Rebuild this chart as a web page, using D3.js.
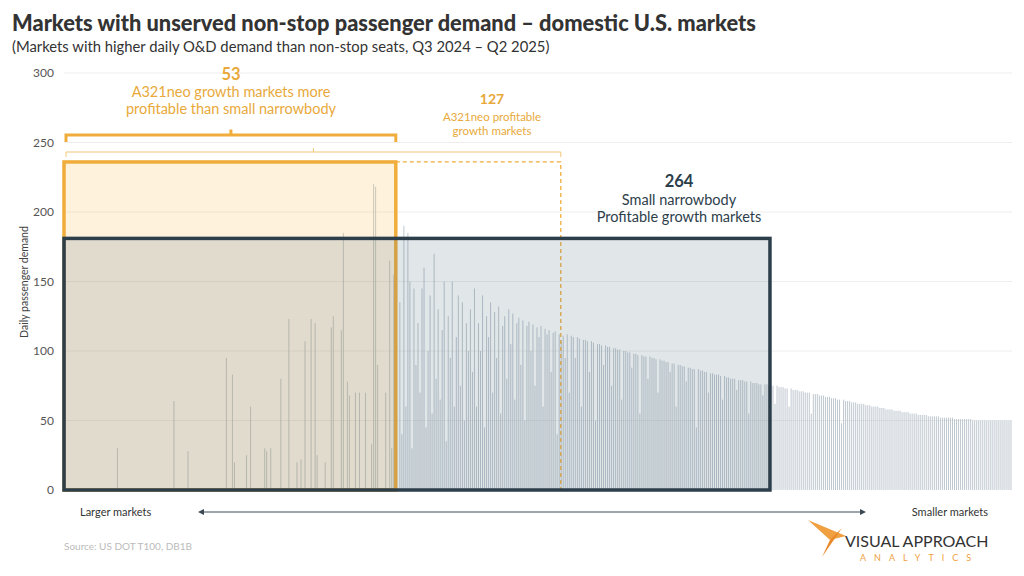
<!DOCTYPE html>
<html><head><meta charset="utf-8">
<script src="https://cdn.jsdelivr.net/npm/d3@7"></script>
<style>body{margin:0;background:#fff}text{font-family:Lato,sans-serif}</style>
</head><body>
<svg id="c" width="1024" height="576"></svg>
<script>
// sparse bars among the largest markets: [slot, daily demand]
const leftSlots  = [26,54,61,80,83,84,90,92,99,100,102,107,111,115,117,119,122,124,125,129,132,133,137,138,140,141,144,146,149,152,153,154,155,159,161,162,163,164];
const leftValues = [30,64,28,95,83,20,25,60,30,28,30,80,123,20,22,107,123,120,25,20,117,125,115,185,78,68,70,70,70,33,220,218,90,70,165,30,155,135];
const denseStart = 166;
const denseValues = [
135,40,190,60,185,150,30,145,90,120,70,145,160,45,100,140,55,170,80,130,65,115,150,35,125,95,150,60,110,140,75,135,50,120,100,
130,85,145,60,120,100,140,45,125,110,135,70,128,95,132,55,118,125,80,130,105,127,65,120,124,90,122,50,118,121,100,119,75,117,110,118,60,116,112,115,85,113,114,40,112,108,111,95,
112,70,111,110,95,110,109,60,108,108,107,85,107,106,50,105,105,104,90,104,103,103,75,102,102,101,101,65,100,100,99,99,88,98,98,97,55,97,96,96,80,96,95,95,94,70,94,93,93,92,92,85,
91,91,60,90,90,89,89,78,88,88,87,87,45,87,86,86,85,85,70,84,84,83,83,83,82,65,82,81,81,80,80,80,72,79,79,79,78,78,55,78,77,77,77,76,76,68,76,76,75,75,75,62,75,
74,74,74,73,73,60,73,72,72,72,71,71,71,70,70,70,55,69,69,69,68,68,68,67,67,67,66,66,66,65,65,48,65,64,64,64,63,63,63,62,62,62,62,61,61,61,60,60,60,60,59,59,59,58,58,58,58,57,57,57,57,56,56,56,56,55,55,55,55,54,54,54,54,54,53,53,53,53,53,53,52,52,52,52,52,52,52,51,51,51,51,51,51,51,51,51,50,50,50,50,50,50,50,50,50,50,50,50,50,50,50,50,50,50,50,50];
const yTicks = [0,50,100,150,200,250,300];
const boxEndSlots = [164.5,246.3,350];    // 53, 127, 264 market groups
const boxHeights = [236,236,181];
const groupCounts = ["53","127","264"];

const N = denseStart + denseValues.length;
const bars = leftSlots.map((s,i)=>({s,v:leftValues[i]}))
  .concat(denseValues.map((v,i)=>({s:denseStart+i,v})));

const svg = d3.select("#c");
const x = d3.scaleLinear().domain([0,N]).range([64,1012]);
const y = d3.scaleLinear().domain([0,300]).range([490,73]);

svg.append("text").attr("x",12).attr("y",31).attr("font-size",21.8).attr("font-weight",900).attr("fill","#333")
  .text("Markets with unserved non-stop passenger demand – domestic U.S. markets");
svg.append("text").attr("x",12).attr("y",52).attr("font-size",14.8).attr("fill","#333")
  .text("(Markets with higher daily O&D demand than non-stop seats, Q3 2024 – Q2 2025)");

svg.append("g").selectAll("line").data(yTicks.slice(1)).join("line")
  .attr("x1",64).attr("x2",1012).attr("y1",d=>y(d)).attr("y2",d=>y(d)).attr("stroke","#eee");
svg.append("g").selectAll("text").data(yTicks).join("text")
  .attr("x",54).attr("y",d=>y(d)+4).attr("text-anchor","end").attr("font-size",12).attr("fill","#555").text(d=>d);
svg.append("text").attr("transform","translate(28,282) rotate(-90)").attr("text-anchor","middle")
  .attr("font-size",10.5).attr("fill","#444").text("Daily passenger demand");

svg.append("g").selectAll("line").data(bars).join("line")
  .attr("x1",d=>x(d.s+0.5)).attr("x2",d=>x(d.s+0.5)).attr("y1",y(0)).attr("y2",d=>y(d.v))
  .attr("stroke","#aab6c0").attr("stroke-width",1).attr("opacity",0.75);

// boxes
const orange="#f0ad3c", dark="#2d3e4b";
svg.append("path").attr("d",`M${x(boxEndSlots[0])},${y(boxHeights[1])}H${x(boxEndSlots[1])}V${y(0)}`)
  .attr("fill","none").attr("stroke",orange).attr("stroke-width",1.3).attr("stroke-dasharray","4,3");
svg.append("rect").attr("x",x(0)).attr("y",y(boxHeights[0])).attr("width",x(boxEndSlots[0])-x(0))
  .attr("height",y(0)-y(boxHeights[0])).attr("fill","rgba(252,196,100,0.22)").attr("stroke",orange).attr("stroke-width",3.5);
svg.append("rect").attr("x",x(0)).attr("y",y(boxHeights[2])).attr("width",x(boxEndSlots[2])-x(0))
  .attr("height",y(0)-y(boxHeights[2])).attr("fill","rgba(80,105,125,0.17)").attr("stroke",dark).attr("stroke-width",3.5);

// braces
function brace(x0,x1,yy,h,w,col){
  const m=(x0+x1)/2;
  svg.append("path").attr("d",`M${x0},${yy+h}V${yy}H${x1}V${yy+h}M${m},${yy}V${yy-h*0.8}`)
    .attr("fill","none").attr("stroke",col).attr("stroke-width",w);
}
brace(x(0)+2,x(boxEndSlots[0]),135,7,3,orange);
brace(x(0)+2,x(boxEndSlots[1]),152,5,1,"#f2c67a");

svg.append("text").attr("x",231).attr("y",80).attr("text-anchor","middle").attr("font-size",16.5).attr("font-weight",700).attr("fill","#e8a93a").text(groupCounts[0]);
svg.append("text").attr("x",231).attr("y",97).attr("text-anchor","middle").attr("font-size",14.5).attr("fill","#e8a93a").text("A321neo growth markets more");
svg.append("text").attr("x",231).attr("y",114).attr("text-anchor","middle").attr("font-size",14.5).attr("fill","#e8a93a").text("profitable than small narrowbody");
svg.append("text").attr("x",492).attr("y",104).attr("text-anchor","middle").attr("font-size",14).attr("font-weight",700).attr("fill","#e8a93a").text(groupCounts[1]);
svg.append("text").attr("x",492).attr("y",121).attr("text-anchor","middle").attr("font-size",11.5).attr("fill","#e8a93a").text("A321neo profitable");
svg.append("text").attr("x",492).attr("y",135).attr("text-anchor","middle").attr("font-size",11.5).attr("fill","#e8a93a").text("growth markets");
svg.append("text").attr("x",679).attr("y",187).attr("text-anchor","middle").attr("font-size",16.5).attr("font-weight",700).attr("fill","#2d3e4b").text(groupCounts[2]);
svg.append("text").attr("x",679).attr("y",205).attr("text-anchor","middle").attr("font-size",14.5).attr("fill","#2d3e4b").text("Small narrowbody");
svg.append("text").attr("x",679).attr("y",222).attr("text-anchor","middle").attr("font-size",14.5).attr("fill","#2d3e4b").text("Profitable growth markets");

// bottom
svg.append("text").attr("x",80).attr("y",516).attr("font-size",11).attr("fill","#333").text("Larger markets");
svg.append("text").attr("x",988).attr("y",516).attr("text-anchor","end").attr("font-size",11).attr("fill","#333").text("Smaller markets");
svg.append("line").attr("x1",202).attr("x2",862).attr("y1",512).attr("y2",512).attr("stroke","#3c4a56").attr("stroke-width",1);
svg.append("path").attr("d","M198,512l6,-3v6z").attr("fill","#3c4a56");
svg.append("path").attr("d","M866,512l-6,-3v6z").attr("fill","#3c4a56");
svg.append("text").attr("x",64).attr("y",550).attr("font-size",10).attr("fill","#bbb").text("Source:  US DOT T100, DB1B");
// logo
svg.append("path").attr("d","M808,520L846,536L830,540Z").attr("fill","#f0a040");
svg.append("path").attr("d","M830,540L842,528L822,557Z").attr("fill","#e8892a");
svg.append("text").attr("x",845).attr("y",547).attr("font-size",16).attr("fill","#333").text("VISUAL APPROACH");
svg.append("text").attr("x",860).attr("y",561).attr("font-size",9).attr("letter-spacing",8).attr("fill","#f0a040").text("ANALYTICS");
</script>
</body></html>
